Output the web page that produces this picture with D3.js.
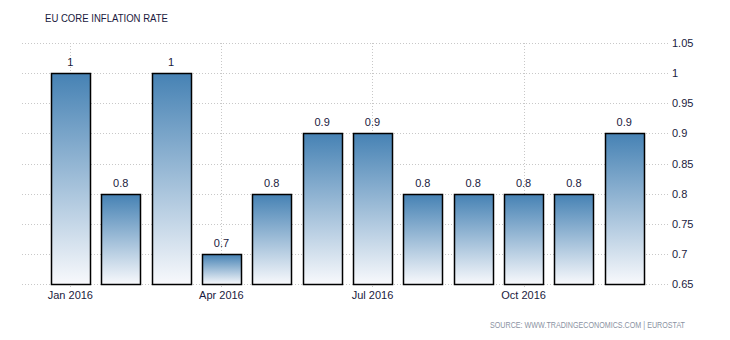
<!DOCTYPE html>
<html><head><meta charset="utf-8">
<script src="https://cdn.jsdelivr.net/npm/d3@7"></script>
<style>body{margin:0;background:#fff;} text{font-family:"Liberation Sans",Arial,sans-serif;}</style>
</head><body><svg id="c" width="730" height="340"></svg>
<script>
const months = ["Jan 2016","Feb 2016","Mar 2016","Apr 2016","May 2016","Jun 2016","Jul 2016","Aug 2016","Sep 2016","Oct 2016","Nov 2016","Dec 2016"];
const values = [1, 0.8, 1, 0.7, 0.8, 0.9, 0.9, 0.8, 0.8, 0.8, 0.8, 0.9];
const valueLabels = ["1","0.8","1","0.7","0.8","0.9","0.9","0.8","0.8","0.8","0.8","0.9"];
const yTicks = [0.65, 0.7, 0.75, 0.8, 0.85, 0.9, 0.95, 1, 1.05];
const yTickLabels = ["0.65","0.7","0.75","0.8","0.85","0.9","0.95","1","1.05"];
const xLabelMonths = ["Jan 2016","Apr 2016","Jul 2016","Oct 2016"];

const svg = d3.select("#c");
const x = d3.scaleBand().domain(months).range([45.3, 649.3]).paddingInner(0.225).paddingOuter(0.11);
const y = d3.scaleLinear().domain([0.65, 1.05]).range([284, 43]);
const ff = "'Liberation Sans',Arial,sans-serif";

const defs = svg.append("defs");
const g = defs.append("linearGradient").attr("id","grad").attr("x1",0).attr("y1",0).attr("x2",0).attr("y2",1);
g.append("stop").attr("offset","0%").attr("stop-color","#4682b4");
g.append("stop").attr("offset","100%").attr("stop-color","#f8f9fc");

// title
svg.append("text").attr("x",45).attr("y",22).attr("font-size",11.5).attr("fill","#1a1a40")
  .attr("textLength",123).attr("lengthAdjust","spacingAndGlyphs").text("EU CORE INFLATION RATE");

// horizontal grid
svg.append("g").selectAll("line").data(yTicks).join("line")
  .attr("x1",22).attr("x2",670)
  .attr("y1",d=>Math.round(y(d))+0.5).attr("y2",d=>Math.round(y(d))+0.5)
  .attr("stroke","#c8c8c8").attr("stroke-dasharray","1,2");

// vertical grid
svg.append("g").selectAll("line").data(xLabelMonths).join("line")
  .attr("x1",d=>Math.round(x(d)+x.bandwidth()/2)+0.5).attr("x2",d=>Math.round(x(d)+x.bandwidth()/2)+0.5)
  .attr("y1",43).attr("y2",289)
  .attr("stroke","#c8c8c8").attr("stroke-dasharray","1,2");

// y axis labels
const yAxis = d3.axisRight(y).tickValues(yTicks).tickSize(0).tickPadding(0).tickFormat((d,i)=>yTickLabels[i]);
const ya = svg.append("g").attr("transform","translate(672,0)").call(yAxis);
ya.select(".domain").remove();
ya.selectAll("text").attr("font-size",11).attr("fill","#1a1a40").attr("font-family",ff);

// x axis labels
const xAxis = d3.axisBottom(x).tickValues(xLabelMonths).tickSize(0).tickPadding(0);
const xa = svg.append("g").attr("transform","translate(0,291)").call(xAxis);
xa.select(".domain").remove();
xa.selectAll("text").attr("font-size",11).attr("fill","#1a1a40").attr("dy","0.75em").attr("font-family",ff);

// bars
svg.append("g").selectAll("rect").data(values).join("rect")
  .attr("x",(d,i)=>Math.round(x(months[i]))+0.5)
  .attr("y",d=>Math.round(y(d))+0.5)
  .attr("width",Math.round(x.bandwidth()))
  .attr("height",d=>Math.round(y(0.65))-Math.round(y(d)))
  .attr("fill","url(#grad)").attr("stroke","#000").attr("stroke-width",1.5);

// value labels
svg.append("g").selectAll("text").data(values).join("text")
  .attr("x",(d,i)=>x(months[i])+x.bandwidth()/2)
  .attr("y",d=>y(d)-7)
  .attr("text-anchor","middle").attr("font-size",11).attr("fill","#1a1a40")
  .text((d,i)=>valueLabels[i]);

// source
svg.append("text").attr("x",685).attr("y",328).attr("text-anchor","end").attr("font-size",8.5).attr("fill","#8a92a2")
  .attr("textLength",195).attr("lengthAdjust","spacingAndGlyphs")
  .text("SOURCE: WWW.TRADINGECONOMICS.COM | EUROSTAT");
</script></body></html>
